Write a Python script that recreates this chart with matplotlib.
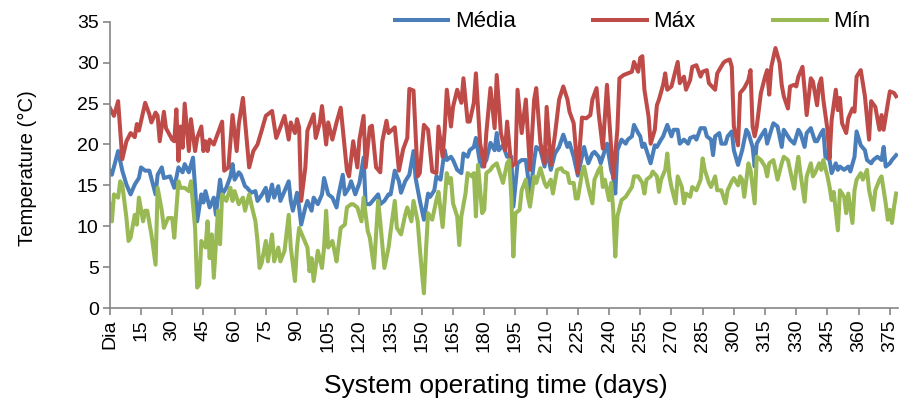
import matplotlib
matplotlib.use("Agg")
import matplotlib.pyplot as plt

plt.rcParams['font.family'] = ['Liberation Sans', 'DejaVu Sans']

# ---- Data ----
max_days = [0,2,4,6,8,10,12,13,14,17,19,20,22,23,24,26,27,30,31,32,33,34,35,36,38,39,41,42,44,45,46,47,48,50,
            54,55,57,59,61,62,64,67,69,71,73,75,78,80,82,84,86,87,89,90,91,92,94,95,98,99,101,102,104,105,107,
            109,111,114,115,117,119,120,122,123,125,126,128,130,131,133,134,137,139,141,143,144,146,148,149,151,
            153,155,157,158,160,161,162,164,165,167,169,170,172,173,175,176,178,180,181,183,185,186,188,190,191,
            193,195,196,198,200,202,204,205,207,209,210,212,214,216,218,220,221,223,225,227,229,231,232,234,235,
            237,239,240,242,244,245,247,249,251,252,254,255,256,257,259,260,262,263,264,266,267,268,270,272,273,
            274,276,277,279,280,282,284,285,287,288,291,292,295,296,298,299,300,302,303,305,307,308,309,310,311,
            313,315,316,317,318,320,322,323,324,326,327,329,330,331,333,334,335,337,338,340,341,342,343,345,346,
            347,349,350,351,352,354,355,357,358,359,361,363,365,366,368,370,371,372,374,375,377,378]
max_vals = [24.5,23.5,25.3,18.2,20.4,21.4,20.9,22.5,21.7,25.1,23.7,22.7,23.9,23.5,20.4,24.0,22.0,20.6,20.4,24.3,
            18.0,22.2,19.6,25.0,19.2,23.1,19.2,20.8,22.2,19.2,20.4,19.2,20.6,20.0,22.8,16.8,17.2,23.6,19.2,22.5,
            25.7,17.2,19.2,20.0,21.7,23.5,24.1,20.8,22.1,23.5,20.6,22.7,21.4,23.1,22.1,13.1,17.2,21.7,23.7,20.8,
            22.7,24.7,20.0,22.7,20.6,22.7,24.5,16.8,16.1,20.4,17.2,20.6,23.5,17.2,22.1,22.3,17.2,16.6,20.4,22.9,
            21.4,22.1,16.8,19.4,20.8,26.8,26.6,16.1,16.5,22.4,21.8,16.7,16.5,22.2,18.5,21.8,26.7,22.2,24.6,26.7,
            25.1,28.1,22.8,22.8,25.1,28.7,20.2,17.3,21.4,26.9,22.0,28.5,21.4,19.3,22.8,17.3,17.7,26.7,21.4,25.5,
            16.9,25.5,26.9,20.2,17.7,24.6,17.5,21.2,25.5,27.1,25.5,24.0,22.6,16.5,23.3,23.2,23.6,25.5,26.9,23.8,
            19.5,27.3,23.4,15.9,21.8,28.1,28.5,28.7,28.9,30.1,28.9,30.6,30.8,26.7,23.4,20.1,21.8,24.8,25.5,27.3,
            28.7,26.7,27.1,29.1,30.1,27.5,28.3,26.7,27.9,29.5,29.7,28.3,28.9,29.1,27.5,26.7,28.7,30.0,30.2,30.4,
            29.5,22.2,19.9,26.3,26.9,27.9,29.1,22.2,21.0,22.2,26.3,28.3,29.1,26.1,29.5,31.8,30.0,27.3,25.9,24.4,
            27.1,27.3,27.1,28.3,29.5,26.7,23.6,28.1,27.7,24.8,27.3,28.1,25.5,21.8,18.3,23.0,26.7,24.2,25.7,22.6,
            21.4,23.2,24.4,24.0,28.3,29.1,25.9,20.6,25.3,24.6,21.8,23.6,21.8,25.0,26.5,26.3,25.9]

mean_days = [0,1,4,6,8,10,12,14,15,17,19,22,23,25,26,29,31,33,35,36,38,40,41,42,44,45,46,48,50,51,53,54,56,58,
             59,60,62,63,65,66,68,70,71,73,75,76,78,79,81,82,84,86,87,88,90,91,92,94,95,97,98,100,102,103,105,
             107,109,110,112,113,115,116,118,120,122,123,125,127,129,130,132,134,135,137,139,140,142,144,146,147,
             149,151,153,154,156,157,159,161,162,164,165,167,169,170,172,173,175,176,178,179,181,183,185,186,187,
             189,191,193,194,196,198,200,201,202,204,205,207,209,210,212,214,216,218,220,221,223,225,227,228,230,
             232,233,235,236,238,239,241,242,243,244,246,248,249,251,252,254,255,256,257,259,260,262,263,265,266,
             268,270,271,273,274,276,278,279,281,282,284,286,287,289,290,291,293,294,296,297,299,300,302,304,306,
             307,309,310,311,313,315,316,318,319,321,323,324,326,327,329,331,332,334,335,337,339,340,342,343,344,
             346,347,349,350,351,353,355,356,358,359,361,363,364,366,367,369,371,372,373,375,376,378]
mean_vals = [16.8,16.3,19.2,16.8,15.1,13.9,15.1,15.9,17.2,16.8,16.8,13.9,16.3,17.2,15.9,16.1,14.7,17.2,16.6,17.6,
             16.6,18.4,14.7,10.6,13.9,12.9,14.3,12.3,13.5,11.4,15.7,13.9,14.7,16.1,17.6,15.7,16.6,16.3,14.9,14.7,
             14.1,14.3,13.1,13.8,14.7,13.1,15.1,13.5,14.9,13.1,14.3,15.5,13.1,11.9,14.1,12.3,10.2,12.3,13.1,11.9,
             13.5,12.7,13.9,15.9,13.9,13.5,12.3,13.9,16.3,13.9,14.7,15.5,13.9,15.3,18.4,12.7,12.7,13.3,13.9,12.7,
             13.1,13.9,13.9,16.8,15.5,14.1,15.5,16.3,19.2,15.9,13.2,10.8,14.0,13.6,14.4,16.1,15.7,19.3,18.1,18.5,
             18.1,16.9,16.5,18.9,18.5,19.3,19.7,20.8,17.7,17.3,18.1,20.2,19.3,21.4,19.3,19.9,18.5,18.5,12.4,17.7,
             18.1,18.1,16.1,13.6,18.1,19.7,19.3,17.3,19.3,16.9,18.9,19.7,21.2,19.7,20.2,18.5,16.2,18.5,19.7,17.7,
             18.9,19.1,18.5,17.7,19.3,20.1,16.9,16.1,14.0,19.3,20.6,20.1,20.6,21.0,22.4,21.4,21.0,19.7,20.1,18.5,
             17.7,19.9,19.7,20.6,21.0,22.4,21.0,21.8,21.8,20.1,20.6,20.1,20.8,21.0,20.6,22.0,22.0,21.0,20.6,18.7,
             21.0,21.4,20.1,20.1,21.0,21.6,19.3,17.5,19.3,21.8,21.4,19.7,17.3,20.1,21.0,21.8,20.1,21.8,22.6,22.2,
             19.7,21.8,21.0,20.6,20.1,21.8,21.4,19.7,21.4,22.0,20.4,20.4,21.4,21.8,18.5,18.1,16.5,17.7,16.9,17.3,
             16.9,17.3,16.7,18.5,21.6,19.9,19.3,18.1,17.7,18.1,18.5,18.1,19.7,17.3,17.7,18.1,18.7]

min_days = [0,1,2,4,5,6,8,9,10,12,13,14,16,17,18,20,22,23,25,26,28,30,31,33,34,36,38,39,41,42,43,44,46,47,48,49,
            50,52,53,54,56,58,59,60,62,64,65,67,68,70,71,72,73,75,76,78,79,81,82,84,86,87,89,90,91,93,95,96,97,98,
            100,102,103,104,105,107,108,109,111,113,114,116,117,119,121,122,124,125,127,129,130,132,134,135,137,
            138,140,142,143,145,146,148,149,150,151,152,153,155,157,158,159,160,162,163,164,165,167,168,169,171,
            172,174,175,176,177,179,180,181,183,184,186,188,189,191,192,193,194,195,197,198,200,201,202,204,205,
            207,209,210,212,213,215,217,218,220,221,223,224,225,227,228,230,232,233,235,236,237,238,240,241,242,
            243,244,246,248,249,251,252,254,256,257,258,260,261,263,264,265,267,268,269,270,272,273,275,276,277,
            279,280,282,284,285,286,288,289,291,292,294,295,296,297,299,300,302,303,304,305,307,308,310,311,313,
            315,316,317,319,320,321,323,324,326,327,329,330,331,332,334,335,337,338,339,341,342,343,345,346,347,
            348,350,351,353,354,355,357,358,359,361,362,364,365,367,368,370,371,373,374,375,376,377,378]
min_vals = [12.7,10.6,13.9,13.5,15.5,15.1,11.0,8.2,8.6,11.4,10.2,13.5,10.6,11.9,11.9,9.0,5.3,14.7,11.9,9.8,11.0,
            11.0,8.6,15.5,14.7,14.7,14.3,15.5,9.8,2.5,2.9,8.2,7.4,10.6,6.1,9.0,3.7,11.9,7.8,13.9,13.1,14.7,13.1,
            14.3,12.7,13.5,11.9,13.9,12.7,10.6,8.2,4.9,5.5,8.2,5.7,9.0,5.7,7.4,5.7,7.0,11.4,7.4,3.3,7.4,9.8,8.6,
            7.4,4.5,6.1,3.3,7.0,4.9,7.4,11.9,7.4,8.2,7.0,5.7,9.8,10.2,12.3,12.7,12.7,12.3,10.6,13.5,9.4,8.6,4.9,
            13.1,10.6,4.9,7.4,9.4,13.1,9.8,9.0,11.4,12.3,10.6,13.1,10.6,7.4,4.5,1.8,7.1,11.6,10.8,13.2,14.2,12.0,
            9.9,16.5,15.3,15.9,12.8,11.2,7.7,11.2,14.0,16.5,16.1,16.5,11.2,17.5,11.6,12.0,16.5,16.9,17.3,17.7,16.1,
            15.3,17.7,18.1,13.6,6.3,11.6,12.0,14.4,15.7,13.6,12.4,16.1,15.3,17.1,15.3,14.8,15.7,14.0,16.9,17.1,
            16.7,16.5,15.3,15.3,13.4,13.4,16.5,17.3,14.8,12.8,15.7,16.9,17.3,14.8,15.7,13.2,15.3,12.0,6.3,11.2,
            13.2,13.6,14.0,14.8,16.1,16.1,15.3,14.0,15.7,16.1,16.7,16.1,14.2,15.7,16.9,18.9,16.1,14.8,12.8,16.1,
            14.8,12.8,14.0,13.6,14.8,14.4,15.7,18.3,16.9,15.3,14.8,16.1,14.4,14.4,13.6,12.8,14.4,15.5,15.9,15.0,
            16.1,15.7,13.6,17.7,16.9,12.8,18.5,18.1,17.3,16.1,17.7,18.1,16.9,15.7,17.7,18.5,18.1,16.9,14.6,16.9,
            18.5,16.5,13.0,16.1,17.7,16.1,16.5,17.7,16.9,18.1,16.1,14.8,13.2,14.2,9.5,14.4,13.6,11.6,14.0,10.4,
            14.4,15.7,16.5,15.7,16.9,14.4,12.0,14.4,15.7,16.1,12.8,10.8,12.0,10.4,12.4,14.0]

series_labels = ["Média", "Máx", "Mín"]
series_colors = ["#4A7EBB", "#BE4B48", "#98B954"]
xtick_values = list(range(0, 376, 15))
xtick_labels = ["Dia"] + [str(v) for v in xtick_values[1:]]
ytick_values = list(range(0, 36, 5))

# ---- Figure ----
fig = plt.figure(figsize=(9, 4.05), dpi=100)
ax = fig.add_axes([0.122, 0.2395, 0.876, 0.7065])

lw = 2.9
ax.plot(mean_days, mean_vals, color=series_colors[0], lw=lw, label=series_labels[0], solid_joinstyle='round')
ax.plot(max_days, max_vals, color=series_colors[1], lw=lw, label=series_labels[1], solid_joinstyle='round')
ax.plot(min_days, min_vals, color=series_colors[2], lw=lw, label=series_labels[2], solid_joinstyle='round')

ax.set_xlim(0, 379)
ax.set_ylim(0, 35)
ax.set_xticks(xtick_values)
ax.set_xticklabels(xtick_labels, rotation=90, fontsize=14)
ax.set_yticks(ytick_values)
ax.set_yticklabels([str(v) for v in ytick_values], fontsize=14)

for s in ["top", "right"]:
    ax.spines[s].set_visible(False)
for s in ["left", "bottom"]:
    ax.spines[s].set_color("#868686")
    ax.spines[s].set_linewidth(1.2)
ax.tick_params(axis="both", direction="out", length=5, width=1.2, color="#868686", pad=3)

ax.set_ylabel("Temperature (°C)", fontsize=14.6)
ax.yaxis.set_label_coords(-0.092, 0.49)
ax.set_xlabel("System operating time (days)", fontsize=19)
ax.xaxis.set_label_coords(0.49, -0.232)

leg = ax.legend(loc="center", bbox_to_anchor=(0.703, 0.946), bbox_transform=fig.transFigure,
                ncol=3, frameon=False, fontsize=16, handlelength=2.4, handletextpad=0.3,
                columnspacing=3.5, borderpad=0, borderaxespad=0)

fig.savefig("out.png", dpi=100)
